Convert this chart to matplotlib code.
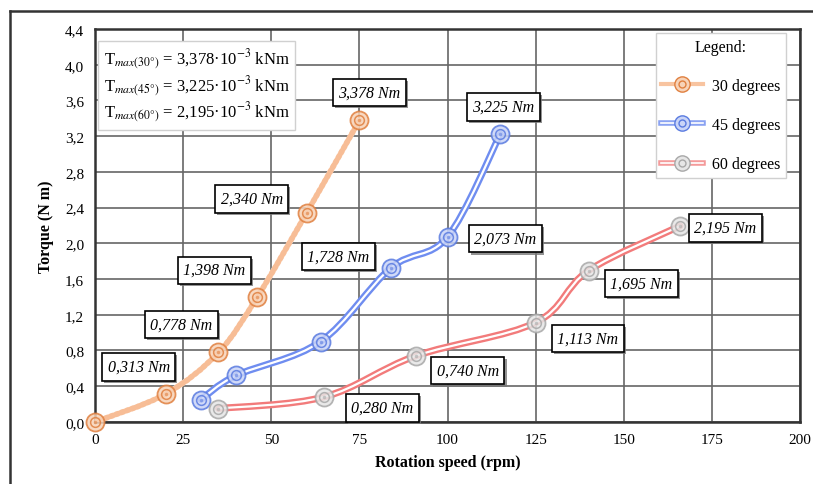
import numpy as np
import matplotlib.pyplot as plt
from matplotlib.path import Path
from matplotlib.patches import PathPatch
from matplotlib.lines import Line2D
from matplotlib.legend_handler import HandlerTuple
import matplotlib.patheffects as pe

plt.rcParams['font.family'] = ['Liberation Serif', 'DejaVu Serif']
plt.rcParams['mathtext.fontset'] = 'stix'

# rotation speed (rpm) and torque (N m) for each inclination
speed_30 = [0, 20, 35, 46, 60, 75]
torque_30 = [0.0, 0.313, 0.778, 1.398, 2.340, 3.378]
labels_30 = [None, "0,313 Nm", "0,778 Nm", "1,398 Nm", "2,340 Nm", "3,378 Nm"]

speed_45 = [30, 40, 64, 84, 100, 115]
torque_45 = [0.25, 0.52, 0.90, 1.728, 2.073, 3.225]
labels_45 = [None, None, None, "1,728 Nm", "2,073 Nm", "3,225 Nm"]

speed_60 = [35, 65, 91, 125, 140, 166]
torque_60 = [0.15, 0.280, 0.740, 1.113, 1.695, 2.195]
labels_60 = [None, "0,280 Nm", "0,740 Nm", "1,113 Nm", "1,695 Nm", "2,195 Nm"]

x_ticks = [0, 25, 50, 75, 100, 125, 150, 175, 200]
y_ticks = [0.0, 0.4, 0.8, 1.2, 1.6, 2.0, 2.4, 2.8, 3.2, 3.6, 4.0, 4.4]


def smooth_path(x, y):
    # Catmull-Rom style bezier through the points (like a spreadsheet smoothed line)
    p = np.column_stack([x, y]).astype(float)
    n = len(p)
    verts = [p[0]]
    codes = [Path.MOVETO]
    for i in range(n - 1):
        p0 = p[i - 1] if i > 0 else p[i]
        p3 = p[i + 2] if i + 2 < n else p[i + 1]
        c1 = p[i] + (p[i + 1] - p0) / 6
        c2 = p[i + 1] - (p3 - p[i]) / 6
        verts += [c1, c2, p[i + 1]]
        codes += [Path.CURVE4] * 3
    return Path(verts, codes)


def draw_series(ax, x, y, styles, mcolor, mfill):
    path = smooth_path(x, y)
    for st in styles:
        ax.add_patch(PathPatch(path, fill=False, transform=ax.transData,
                               capstyle='round', joinstyle='round', zorder=3, **st))
    ax.plot(x, y, 'o', ms=13, mfc=mfill, mec=mcolor, mew=1.3, alpha=0.85, zorder=4, clip_on=False)
    ax.plot(x, y, 'o', ms=7, mfc='none', mec=mcolor, mew=1.1, alpha=0.85, zorder=4, clip_on=False)
    ax.plot(x, y, 'o', ms=2.5, mfc=mcolor, mec='none', alpha=0.6, zorder=4, clip_on=False)


fig = plt.figure(figsize=(8.13, 4.85), dpi=100)
ax = fig.add_axes([0.117, 0.128, 0.867, 0.81])

orange_styles = [dict(lw=4, edgecolor='#fde3d0'),
                 dict(lw=4, edgecolor='#f7bd96', linestyle=(0, (0.4, 0.6)))]
blue_styles = [dict(lw=5, edgecolor='#6f8df0'), dict(lw=1.6, edgecolor='white')]
red_styles = [dict(lw=5, edgecolor='#f27b7b'), dict(lw=1.6, edgecolor='white')]

draw_series(ax, speed_30, torque_30, orange_styles, '#e08040', '#f7d3b8')
draw_series(ax, speed_45, torque_45, blue_styles, '#5a7be0', '#c9d4f7')
draw_series(ax, speed_60, torque_60, red_styles, '#a8a8a8', '#e6e6e6')

# value labels, offsets in pixels from each point
offsets_30 = [None, (-27, 27), (-37, 28), (-43, 27), (-55, 14), (10, 28)]
offsets_45 = [None, None, None, (-53, 11), (58, -2), (3, 27)]
offsets_60 = [None, (58, -11), (52, -15), (52, -16), (53, -13), (45, -2)]

for xs, ys, labs, offs in [(speed_30, torque_30, labels_30, offsets_30),
                           (speed_45, torque_45, labels_45, offsets_45),
                           (speed_60, torque_60, labels_60, offsets_60)]:
    for xv, yv, lab, off in zip(xs, ys, labs, offs):
        if lab is None:
            continue
        t = ax.annotate(lab, (xv, yv), xytext=off, textcoords='offset pixels',
                        ha='center', va='center', fontsize=11.5, style='italic',
                        bbox=dict(boxstyle='square,pad=0.35', fc='white', ec='black', lw=1.2),
                        zorder=6)
        t.get_bbox_patch().set_path_effects(
            [pe.SimplePatchShadow(offset=(1.5, -1.5), shadow_rgbFace='#777777', alpha=0.8),
             pe.Normal()])

ax.set_xlim(0, 200)
ax.set_ylim(0, 4.4)
ax.set_xticks(x_ticks)
ax.set_yticks(y_ticks)
ax.set_xticklabels([str(v) for v in x_ticks])
ax.set_yticklabels([f"{v:.1f}".replace('.', ',') for v in y_ticks])
ax.tick_params(labelsize=11, length=0, pad=8)
ax.grid(True, color='#666666', lw=1.2)
ax.set_axisbelow(True)
for s in ax.spines.values():
    s.set_linewidth(1.8)
    s.set_color('#333333')

ax.set_xlabel("Rotation speed (rpm)", fontsize=11.5, fontweight='bold', labelpad=6)
ax.set_ylabel("Torque (N m)", fontsize=11.5, fontweight='bold', labelpad=8)

# maximum torque summary box
info = ("T$_{max(30°)}$ = 3,378·10$^{-3}$ kNm\n"
        "T$_{max(45°)}$ = 3,225·10$^{-3}$ kNm\n"
        "T$_{max(60°)}$ = 2,195·10$^{-3}$ kNm")
ax.text(0.012, 0.955, info, transform=ax.transAxes, ha='left', va='top', fontsize=12,
        linespacing=1.15, zorder=7,
        bbox=dict(boxstyle='square,pad=0.35', fc='white', ec='#d0d0d0', lw=1))

# legend with tube-like line handles
h30 = (Line2D([], [], lw=3, color='#f8c4a0'),
       Line2D([], [], marker='o', ms=11, mfc='#f7d3b8', mec='#e08040', ls='none'),
       Line2D([], [], marker='o', ms=5, mfc='none', mec='#e08040', ls='none'))
h45 = (Line2D([], [], lw=4, color='#8aa2f2'), Line2D([], [], lw=1.2, color='white'),
       Line2D([], [], marker='o', ms=11, mfc='#c9d4f7', mec='#5a7be0', ls='none'),
       Line2D([], [], marker='o', ms=5, mfc='none', mec='#5a7be0', ls='none'))
h60 = (Line2D([], [], lw=4, color='#f49a9a'), Line2D([], [], lw=1.2, color='white'),
       Line2D([], [], marker='o', ms=11, mfc='#e6e6e6', mec='#a8a8a8', ls='none'),
       Line2D([], [], marker='o', ms=5, mfc='none', mec='#a8a8a8', ls='none'))
leg = ax.legend([h30, h45, h60], ["30 degrees", "45 degrees", "60 degrees"],
                handler_map={tuple: HandlerTuple(ndivide=1)}, title="Legend:",
                loc='upper right', bbox_to_anchor=(0.992, 1.01), fontsize=11.5,
                title_fontsize=11.5, labelspacing=1.45, handlelength=2.6,
                handletextpad=0.6, borderpad=0.35, borderaxespad=0.5,
                fancybox=False, edgecolor='#d0d0d0', framealpha=1)
leg.set_zorder(8)

# outer frame of the figure
fig.add_artist(Line2D([10 / 813, 10 / 813], [0, 1 - 12 / 485], color='#333333', lw=1.8))
fig.add_artist(Line2D([10 / 813, 1], [1 - 12 / 485, 1 - 12 / 485], color='#333333', lw=1.8))

fig.savefig("out.png", dpi=100)
